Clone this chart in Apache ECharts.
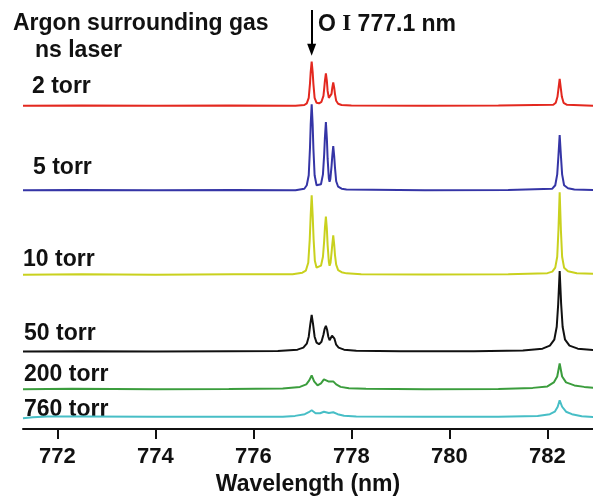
<!DOCTYPE html>
<html>
<head>
<meta charset="utf-8">
<script src="https://cdn.jsdelivr.net/npm/echarts@6/dist/echarts.min.js"></script>
<style>
  html, body { margin: 0; padding: 0; background: #fff; }
  #chart { width: 593px; height: 501px; }
</style>
</head>
<body>
<div id="chart"></div>
<script>
// Emission spectra of the O I 777 nm triplet and the Ar line near 782 nm,
// recorded at several argon pressures. Each pair is [wavelength (nm), intensity (a.u.)].
const pressureLabels = ['2 torr', '5 torr', '10 torr', '50 torr', '200 torr', '760 torr'];

// vertical offset of each trace in the stacked plot (a.u.)
const traceOffsets = [325.5, 240.5, 155.5, 78, 40, 12.5];

const torr2 = [
  [771.30, 0], [772.50, 0.3], [774.00, 0], [775.50, 0.2], [776.78, 0], [776.82, -1.2], [776.86, 0],
  [777.04, 0.8], [777.09, 2.5], [777.13, 8], [777.155, 22], [777.17, 34], [777.19, 44.5], [777.21, 34],
  [777.225, 22], [777.25, 8], [777.29, 3], [777.34, 2.5], [777.39, 4], [777.43, 10], [777.445, 17],
  [777.46, 25], [777.48, 32.5], [777.50, 25], [777.515, 15], [777.54, 8], [777.555, 7], [777.575, 8],
  [777.595, 12], [777.61, 18], [777.63, 23.5], [777.65, 18], [777.665, 12], [777.69, 5], [777.73, 2],
  [777.80, 0.8], [778.00, 0.2], [779.50, 0], [781.00, 0.2], [782.12, 1], [782.17, 3], [782.205, 9],
  [782.225, 17], [782.25, 27], [782.275, 17], [782.295, 9], [782.33, 3], [782.40, 1], [782.95, 0]
];

const torr5 = [
  [771.30, 0], [772.40, 0.3], [774.00, 0], [775.60, 0.3], [776.78, 0], [776.82, -1.2], [776.86, 0],
  [777.04, 1.5], [777.09, 5], [777.13, 15], [777.155, 42], [777.17, 66], [777.19, 86.5], [777.21, 66],
  [777.225, 42], [777.25, 15], [777.29, 5], [777.33, 3], [777.38, 6], [777.42, 16], [777.445, 36],
  [777.46, 53], [777.48, 68.5], [777.50, 52], [777.515, 32], [777.54, 12], [777.555, 8.5], [777.57, 11],
  [777.595, 24], [777.61, 34], [777.63, 44.5], [777.65, 34], [777.665, 23], [777.69, 9], [777.73, 3.5],
  [777.80, 1.5], [777.90, 0.8], [779.50, 0], [781.20, 0.3], [782.10, 1.5], [782.16, 5], [782.20, 16],
  [782.225, 35], [782.25, 55.5], [782.275, 35], [782.30, 16], [782.34, 5], [782.42, 2], [782.55, 0.8],
  [782.95, 0.3]
];

const torr10 = [
  [771.30, 0], [772.50, 0.3], [774.00, 0], [775.60, 0.3], [776.80, 0.5], [777.00, 2], [777.07, 4],
  [777.12, 12], [777.15, 35], [777.17, 60], [777.19, 80], [777.21, 60], [777.23, 35], [777.255, 14],
  [777.29, 7], [777.33, 6], [777.38, 9], [777.42, 18], [777.445, 34], [777.46, 47], [777.48, 58.5],
  [777.50, 46], [777.515, 30], [777.54, 13], [777.555, 9], [777.575, 12], [777.595, 22], [777.61, 30],
  [777.63, 39.5], [777.65, 30], [777.665, 20], [777.69, 10], [777.73, 4.5], [777.80, 2.5], [777.90, 1.3],
  [778.20, 0.5], [779.50, 0.2], [781.20, 0.5], [782.00, 1.5], [782.10, 3], [782.16, 7], [782.20, 18],
  [782.225, 45], [782.25, 83], [782.275, 45], [782.30, 18], [782.34, 7], [782.42, 3.5], [782.60, 1.5],
  [782.95, 0.8]
];

const torr50 = [
  [771.30, 0], [772.50, 0.3], [774.00, 0], [775.50, 0.3], [776.50, 0.6], [776.90, 2], [777.02, 4],
  [777.09, 8], [777.13, 15], [777.16, 27], [777.19, 37], [777.22, 27], [777.25, 15], [777.29, 9],
  [777.34, 7.5], [777.39, 10], [777.43, 17], [777.455, 23], [777.48, 26], [777.505, 22], [777.53, 15],
  [777.555, 11.5], [777.58, 13], [777.605, 16], [777.63, 17], [777.655, 13], [777.69, 7], [777.74, 4],
  [777.85, 2], [778.10, 0.8], [779.00, 0.3], [780.50, 0.5], [781.50, 1.2], [781.90, 3], [782.05, 6],
  [782.14, 12], [782.19, 25], [782.22, 48], [782.25, 81], [782.28, 48], [782.31, 25], [782.36, 12],
  [782.45, 6], [782.62, 3], [782.95, 1.5]
];

const torr200 = [
  [771.30, 0], [772.30, 0.5], [774.00, 0], [775.50, 0.3], [776.60, 0.8], [776.95, 2.5], [777.08, 5],
  [777.14, 9], [777.19, 14], [777.24, 8], [777.31, 4], [777.38, 6], [777.44, 10], [777.48, 12],
  [777.53, 8], [777.57, 6.5], [777.63, 8], [777.69, 5], [777.78, 2.5], [777.95, 1.2], [778.30, 0.5],
  [779.50, 0], [781.00, 0.3], [781.70, 1.5], [782.00, 3], [782.13, 7], [782.20, 13], [782.25, 26],
  [782.30, 13], [782.38, 7], [782.55, 4], [782.75, 2.5], [782.95, 1.5]
];

const torr760 = [
  [771.30, -1.5], [771.50, -0.5], [771.80, 0.3], [772.50, 0.3], [774.00, 0], [775.50, 0], [776.60, 0],
  [776.85, 0.8], [777.05, 2.5], [777.13, 4.5], [777.19, 6.5], [777.27, 3.5], [777.36, 3.5], [777.44, 5],
  [777.48, 5.5], [777.54, 3.8], [777.63, 4.5], [777.72, 2.5], [777.85, 1], [778.10, 0.2], [779.50, 0],
  [781.00, 0], [781.80, 0.8], [782.05, 2.5], [782.15, 5], [782.21, 10], [782.25, 16.5], [782.30, 10],
  [782.38, 5], [782.50, 2.5], [782.70, 0.5], [782.95, -0.5]
];

const xTicks = [772, 774, 776, 778, 780, 782];
const oxygenLine = 777.19;   // O I 777.1 nm marker position

const traces = [torr2, torr5, torr10, torr50, torr200, torr760];
const traceColors = ['#e3281f', '#3535a6', '#c9d11e', '#111111', '#3b9d3d', '#47bec6'];

const FONT = '"Liberation Sans", Arial, Helvetica, sans-serif';

const series = traces.map((pts, i) => ({
  name: pressureLabels[i],
  type: 'line',
  showSymbol: false,
  smooth: false,
  lineStyle: { color: traceColors[i], width: 2 },
  itemStyle: { color: traceColors[i] },
  data: pts.map(([w, h]) => [w, h + traceOffsets[i]]),
  z: 2 + i
}));

// arrow pointing at the O I 777.1 nm peak of the top trace
series[0].markLine = {
  silent: true,
  symbol: ['none', 'triangle'],
  symbolSize: [9, 12],
  label: { show: false },
  lineStyle: { color: '#000', width: 2, type: 'solid' },
  data: [[{ coord: [oxygenLine, 422] }, { coord: [oxygenLine, 382] }]]
};

const labelPos = [
  { left: 32, y: 87.5 },
  { left: 33, y: 168 },
  { left: 23, y: 260 },
  { left: 24, y: 334 },
  { left: 24, y: 375 },
  { left: 24, y: 410 }
];

const textStyleBase = { fill: '#111', fontFamily: FONT, fontWeight: 'bold', fontSize: 23 };

const graphics = [
  { type: 'text', left: 13, top: 12, style: Object.assign({ text: 'Argon surrounding gas' }, textStyleBase) },
  { type: 'text', left: 35, top: 39, style: Object.assign({ text: 'ns laser' }, textStyleBase) },
  {
    type: 'text', left: 318, top: 13,
    style: {
      text: '{a|O }{b|I}{a| 777.1 nm}',
      rich: {
        a: { fontFamily: FONT, fontWeight: 'bold', fontSize: 23, fill: '#111' },
        b: { fontFamily: '"Liberation Serif", "Times New Roman", serif', fontWeight: 'bold', fontSize: 23, fill: '#111' }
      }
    }
  }
].concat(pressureLabels.map((t, i) => ({
  type: 'text', left: labelPos[i].left, top: labelPos[i].y - 12,
  style: Object.assign({ text: t }, textStyleBase)
})));

const chart = echarts.init(document.getElementById('chart'), null, { renderer: 'canvas' });
chart.setOption({
  animation: false,
  backgroundColor: '#fff',
  grid: { left: 23, right: 0, top: 0, bottom: 69, containLabel: false },
  xAxis: {
    type: 'value',
    min: 771.3,
    max: 782.93,
    interval: 2,
    name: 'Wavelength (nm)',
    nameLocation: 'middle',
    nameGap: 43,
    nameTextStyle: { color: '#111', fontFamily: FONT, fontWeight: 'bold', fontSize: 23 },
    axisLine: { show: true, onZero: false, lineStyle: { color: '#111', width: 2 } },
    axisTick: { show: true, inside: false, length: 10, lineStyle: { color: '#111', width: 2 },
      customValues: xTicks },
    axisLabel: {
      color: '#111', fontFamily: FONT, fontWeight: 'bold', fontSize: 22, margin: 17,
      customValues: xTicks,
      formatter: v => String(Math.round(v))
    },
    splitLine: { show: false }
  },
  yAxis: {
    type: 'value', min: 0, max: 432, show: false, splitLine: { show: false }
  },
  series: series,
  graphic: graphics
});
</script>
</body>
</html>
